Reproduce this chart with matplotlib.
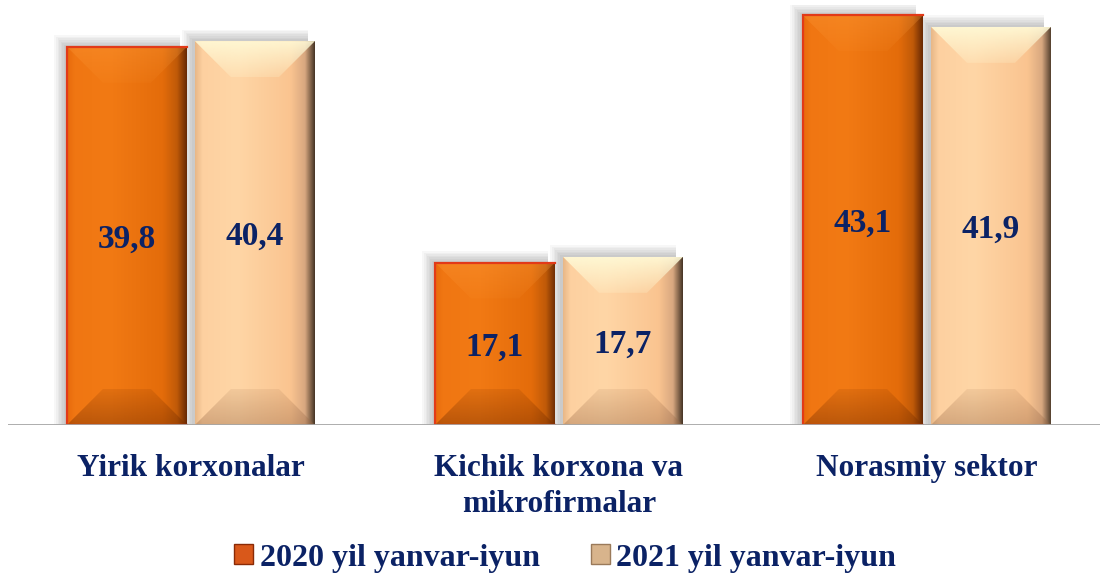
import numpy as np
import matplotlib
matplotlib.use("Agg")
import matplotlib.pyplot as plt
from matplotlib.patches import Polygon, Rectangle, Patch
from matplotlib.colors import to_rgba

categories = ["Yirik korxonalar", "Kichik korxona va\nmikrofirmalar", "Norasmiy sektor"]
series_names = ["2020 yil yanvar-iyun", "2021 yil yanvar-iyun"]
values_2020 = [39.8, 17.1, 43.1]
values_2021 = [40.4, 17.7, 41.9]
labels_2020 = ["39,8", "17,1", "43,1"]
labels_2021 = ["40,4", "17,7", "41,9"]

NAVY = "#0b2265"
FONT = ["Liberation Serif", "DejaVu Serif"]

# horizontal face stops (position, colour) and facet overlays
orange = dict(face=[(0, "#E86A0C"), (0.06, "#F07612"), (0.35, "#F27A14"), (0.8, "#E46C0A"),
                    (0.92, "#C05A08"), (1, "#6a2a04")],
              top=("#FFA040", 0.3), bot=("#7a3000", 0.45), edge="#E23A18")
peach = dict(face=[(0, "#E8B888"), (0.06, "#FDD0A0"), (0.35, "#FFD6A6"), (0.8, "#FAC490"),
                   (0.92, "#D8A880"), (1, "#4a3828")],
             top=("#FFFBD8", 0.9), bot=("#9a6a48", 0.4), edge=None)

W, H, DPI = 11.02, 5.76, 100
fig = plt.figure(figsize=(W, H), dpi=DPI)
ax = fig.add_axes([8 / 1102, (576 - 425) / 576, 1092 / 1102, 420 / 576])
xlim = (-0.497, 2.470)
ylim = (0, 44.2)
ax.set_xlim(*xlim)
ax.set_ylim(*ylim)

# pixels per data unit, used for bevel depth and shadows
sx = 1092 / (xlim[1] - xlim[0])
sy = 420 / (ylim[1] - ylim[0])


def stops_img(stops, n=128):
    t = np.linspace(0, 1, n)
    pos = [p for p, _ in stops]
    cols = np.array([to_rgba(c) for _, c in stops])
    return np.stack([np.interp(t, pos, cols[:, k]) for k in range(4)], axis=-1)


def clipped_img(ax, img, extent, poly_xy, z):
    poly = Polygon(poly_xy, closed=True, facecolor="none", edgecolor="none")
    ax.add_patch(poly)
    im = ax.imshow(img, extent=extent, origin="lower", aspect="auto",
                   interpolation="bilinear", zorder=z)
    im.set_clip_path(poly)


def bevel_bar(ax, xc, width, height, pal, z=3):
    x0, x1 = xc - width / 2, xc + width / 2
    y0, y1 = 0, height
    dx, dy = 36 / sx, 36 / sy
    # soft shadow towards upper-left, fading out
    for k in range(7):
        g = k * 1.6
        ax.add_patch(Rectangle((x0 - (3 + g) / sx, y0), width + (g - 4) / sx,
                               height + (2 + g) / sy, facecolor="#000000",
                               alpha=0.03, edgecolor="none", zorder=z - 1))
    # face with horizontal gradient
    face = stops_img(pal["face"])[None, :, :]
    clipped_img(ax, face, [x0, x1, y0, y1], [(x0, y0), (x1, y0), (x1, y1), (x0, y1)], z)
    # top facet: light overlay fading downward
    c, a = pal["top"]
    top = np.array([to_rgba(c, a * t) for t in np.linspace(0.25, 1, 32)])[:, None, :]
    clipped_img(ax, top, [x0, x1, y1 - dy, y1],
                [(x0, y1), (x1, y1), (x1 - dx, y1 - dy), (x0 + dx, y1 - dy)], z + 0.1)
    # bottom facet: dark overlay, darkest at the base
    c, a = pal["bot"]
    bot = np.array([to_rgba(c, a * t) for t in np.linspace(1, 0.3, 32)])[:, None, :]
    clipped_img(ax, bot, [x0, x1, y0, y0 + dy],
                [(x0, y0), (x1, y0), (x1 - dx, y0 + dy), (x0 + dx, y0 + dy)], z + 0.1)
    if pal["edge"]:
        ax.plot([x1, x0, x0, x1], [y1, y1, y0, y0], color=pal["edge"], lw=1.6,
                zorder=z + 0.3, solid_joinstyle="miter")


bar_w = 120 / sx
offset = 64 / sx
x = np.arange(len(categories))

for i in x:
    bevel_bar(ax, i - offset, bar_w, values_2020[i], orange)
    bevel_bar(ax, i + offset, bar_w, values_2021[i], peach)
    ax.text(i - offset, values_2020[i] / 2, labels_2020[i], ha="center", va="center_baseline",
            fontsize=24, fontweight="bold", color=NAVY, family=FONT, zorder=10)
    ax.text(i + offset, values_2021[i] / 2, labels_2021[i], ha="center", va="center_baseline",
            fontsize=24, fontweight="bold", color=NAVY, family=FONT, zorder=10)

ax.axhline(0, color="#a6a6a6", lw=2, zorder=8)

for s in ax.spines.values():
    s.set_visible(False)
ax.set_yticks([])
ax.set_xticks(x)
ax.set_xticklabels(categories, fontsize=22.5, fontweight="bold", color=NAVY,
                   family=FONT, linespacing=1.3)
ax.tick_params(axis="x", length=0, pad=21)

handles = [Patch(facecolor="#D9581A", edgecolor="#8a2a06", lw=1),
           Patch(facecolor="#D8B48C", edgecolor="#9a7a5a", lw=1)]
fig.legend(handles, series_names, loc="lower center", bbox_to_anchor=(0.513, -0.044),
           ncol=2, frameon=False, handlelength=0.6, handleheight=0.6,
           handletextpad=0.2, columnspacing=1.6,
           prop=dict(family=FONT, weight="bold", size=23), labelcolor=NAVY)

fig.savefig("out.png", dpi=DPI)
